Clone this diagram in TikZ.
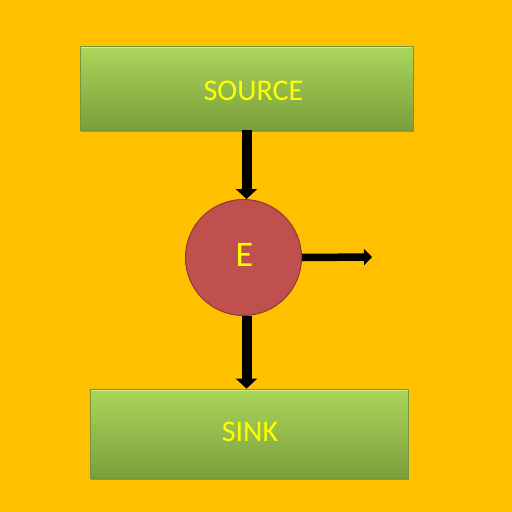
\documentclass[tikz,border=0pt]{standalone}
\usepackage{fontspec}
\setmainfont{Carlito}
\usetikzlibrary{arrows.meta,shadows}
\definecolor{bg}{HTML}{FFC000}
\definecolor{gtop}{HTML}{ABD65B}
\definecolor{gbot}{HTML}{7C9E3B}
\definecolor{gline}{HTML}{76963A}
\definecolor{ghi}{HTML}{D2EC8E}
\definecolor{efill}{HTML}{C0504D}
\definecolor{eline}{HTML}{8C3A38}
\definecolor{txt}{HTML}{FFFF00}
\newcommand{\shiftv}[2]{\raisebox{#1}[\height][\depth]{#2}}
\tikzset{
  boxnode/.style={rectangle, draw=gline, line width=0.8pt, top color=gtop, bottom color=gbot,
    text=txt, font=\fontsize{30}{32}\selectfont,
    drop shadow={shadow xshift=1pt, shadow yshift=-2pt, opacity=0.25, fill=black}},
  enode/.style={circle, fill=efill, draw=eline, line width=1pt, minimum size=116pt, inner sep=0pt,
    text=txt, font=\fontsize{36}{38}\selectfont},
  bigarrow/.style={line width=10pt, -{Triangle[width=21pt,length=10pt]}},
  sidearrow/.style={line width=7.5pt, -{Triangle[width=16pt,length=8pt]}},
  hiline/.style={ghi, line width=1.2pt}
}
\begin{document}
\begin{tikzpicture}[x=1pt,y=-1pt]
\fill[bg] (0,0) rectangle (512,512);
\useasboundingbox (0,0) rectangle (512,512);
\node[boxnode, minimum width=333pt, minimum height=84pt] (src) at (246.5,88) {\hspace*{14pt}\shiftv{-3pt}{SOURCE}};
\node[boxnode, minimum width=318pt, minimum height=89pt] (snk) at (249,433.5) {\hspace*{2pt}\shiftv{1.5pt}{SINK}};
\draw[hiline] ([xshift=1.5pt,yshift=-1.5pt]src.north west) -- ([xshift=-1.5pt,yshift=-1.5pt]src.north east);
\draw[hiline] ([xshift=1.5pt,yshift=-1.5pt]snk.north west) -- ([xshift=-1.5pt,yshift=-1.5pt]snk.north east);
\node[enode] (e) at (243.5,257.5) {\hspace*{2pt}\shiftv{3pt}{E}};
\coordinate (out) at (372,257);
\draw[bigarrow] (src.south) -- (src.south |- e.north);
\draw[bigarrow] (src.south |- e.south) -- (src.south |- snk.north);
\draw[sidearrow] (e.east) -- (out);
\end{tikzpicture}
\end{document}
